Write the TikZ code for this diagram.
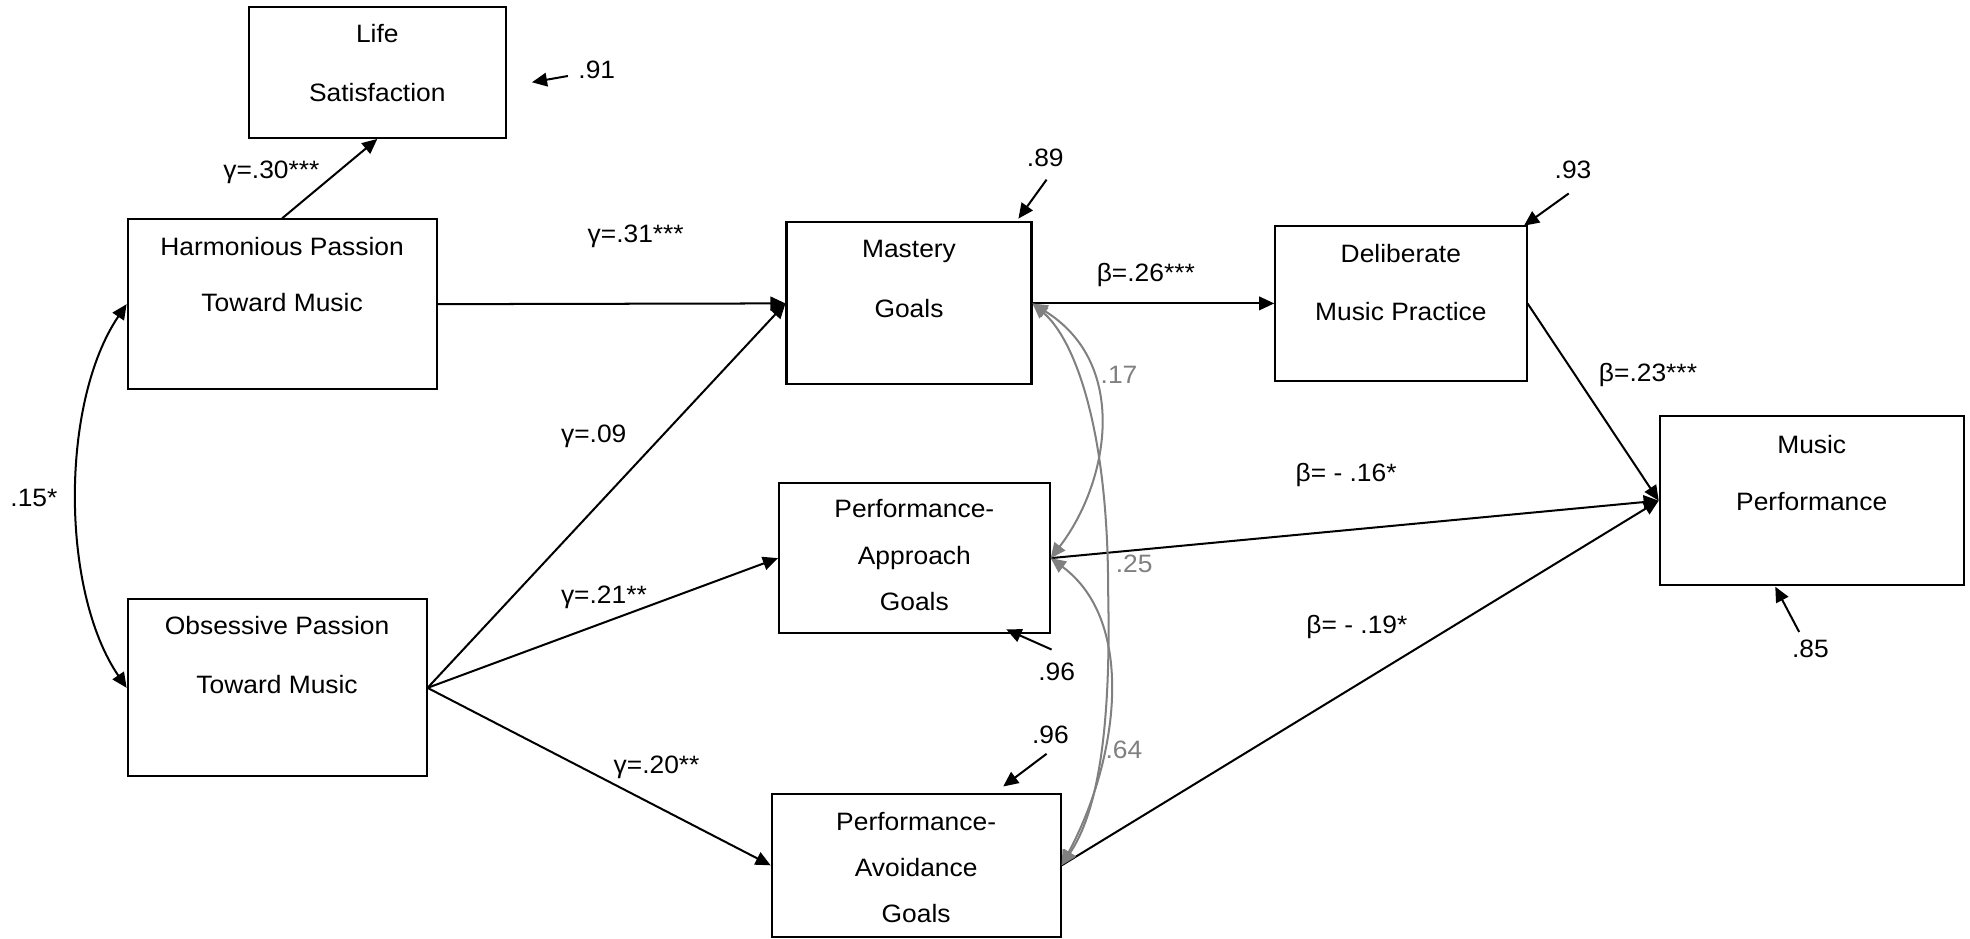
\documentclass[tikz,border=0pt]{standalone}
\usepackage{fontspec}
\setmainfont{Liberation Sans}[FakeStretch=1.05]
\usetikzlibrary{arrows.meta}
\definecolor{curvegray}{RGB}{128,128,128}
\begin{document}
\begin{tikzpicture}[x=0.5pt,y=-0.5pt, font=\fontsize{10}{12}\selectfont,
  box/.style={draw, line width=0.8pt, inner sep=0pt, rectangle},
  txt/.style={anchor=base, inner sep=0pt},
  glab/.style={anchor=base, inner sep=0pt, text=curvegray},
  arr/.style={line width=0.8pt, -{Triangle[length=6pt,width=5.4pt]}},
  darr/.style={line width=0.8pt, {Triangle[length=6pt,width=5.4pt]}-{Triangle[length=6pt,width=5.4pt]}},
  garr/.style={darr, draw=curvegray}]
\fill[white] (0,0) rectangle (1568,747);
\useasboundingbox (0,0) rectangle (1568,747);

% boxes
\node[box, minimum width=102.3pt, minimum height=52pt]    (life) at (300.3,57.8) {};
\node[box, minimum width=122.95pt, minimum height=67.5pt] (harm) at (224.55,242.1) {};
\node[box, minimum width=118.95pt, minimum height=70.5pt] (obs)  at (220.55,547.5) {};
\node[box, minimum width=97.5pt, minimum height=64.5pt]   (mast) at (723.5,241.5) {};
\node[box, minimum width=107.75pt, minimum height=59.75pt] (pap) at (727.75,444.25) {};
\node[box, minimum width=115pt, minimum height=56.75pt]   (pav)  at (729.2,688.75) {};
\node[box, minimum width=100pt, minimum height=61.5pt]    (del)  at (1115,241.5) {};
\node[box, minimum width=121pt, minimum height=67.5pt]    (mp)   at (1442,398.5) {};

% box texts
\node[txt] (lifeA) at (300.3,34) {Life};
\node[txt] (lifeB) at (300.3,80.4) {Satisfaction};
\node[txt] (harmA) at (224.55,203) {Harmonious Passion};
\node[txt] (harmB) at (224.55,248.3) {Toward Music};
\node[txt] (obsA) at (220.55,505.4) {Obsessive Passion};
\node[txt] (obsB) at (220.55,551.6) {Toward Music};
\node[txt] (mastA) at (723.5,205) {Mastery};
\node[txt] (mastB) at (723.5,253) {Goals};
\node[txt] (papA) at (727.75,412.3) {Performance-};
\node[txt] (papB) at (727.75,449.1) {Approach};
\node[txt] (papC) at (727.75,486.3) {Goals};
\node[txt] (pavA) at (729.2,660.7) {Performance-};
\node[txt] (pavB) at (729.2,697.7) {Avoidance};
\node[txt] (pavC) at (729.2,734.2) {Goals};
\node[txt] (delA) at (1115,208.6) {Deliberate};
\node[txt] (delB) at (1115,254.8) {Music Practice};
\node[txt] (mpA) at (1442,360.7) {Music};
\node[txt] (mpB) at (1442,406.2) {Performance};

% paths
\draw[arr] (harm.north) -- (life.south);
\draw[arr] (harm.east) -- (mast.west);
\draw[arr] (obs.east) -- (mast.west);
\draw[arr] (obs.east) -- (pap.west);
\draw[arr] (obs.east) -- (pav.west);
\draw[arr] (mast.east) -- (del.west);
\draw[arr] (del.east) -- (mp.west);
\draw[arr] (pap.east) -- (mp.west);
\draw[arr] (pav.east) -- (mp.west);
\draw[darr] (harm.west) .. controls (48,320) and (48,470) .. (obs.west);

% correlations among goals
\draw[garr] (mast.east) .. controls (900,290) and (882,385) .. (pap.east);
\draw[garr] (mast.east) .. controls (855,270) and (882,340) .. (882,470)
                        .. controls (884,560) and (878,640) .. (pav.east);
\draw[garr] (pap.east) .. controls (905,495) and (890,605) .. (pav.east);

% path labels
\node[txt] (l30) at (216,142) {γ=.30***};
\node[txt] (l31) at (506,193) {γ=.31***};
\node[txt] (l09) at (472.6,352) {γ=.09};
\node[txt] (l21) at (480.7,480) {γ=.21**};
\node[txt] (l20) at (522.6,616) {γ=.20**};
\node[txt] (l15) at (27,403) {.15*};
\node[txt] (l26) at (912,224.3) {β=.26***};
\node[txt] (l23) at (1311.7,304) {β=.23***};
\node[txt] (l16) at (1071.4,383.5) {β= - .16*};
\node[txt] (l19) at (1080,504.3) {β= - .19*};
\node[glab] (l17) at (890.7,305) {.17};
\node[glab] (l25) at (902.7,455.7) {.25};
\node[glab] (l64) at (894.5,604) {.64};

% residuals
\node[txt] (e91) at (475,62.3) {.91};
\node[txt] (e89) at (832,132.4) {.89};
\node[txt] (e93) at (1252,141.8) {.93};
\node[txt] (e96a) at (841,541.4) {.96};
\node[txt] (e96b) at (836,591.4) {.96};
\node[txt] (e85) at (1441,523.6) {.85};
\coordinate (s91) at (452,60.5);   \coordinate (t91) at (423.4,65.5);
\coordinate (s89) at (833,143);    \coordinate (t89) at (810.6,174);
\coordinate (s93) at (1248.6,154); \coordinate (t93) at (1213,179.6);
\coordinate (s96a) at (837,517);   \coordinate (t96a) at (801,501);
\coordinate (s96b) at (833,600);   \coordinate (t96b) at (798.5,626);
\coordinate (s85) at (1432,503);   \coordinate (t85) at (1413,467);
\draw[arr] (s91) -- (t91);
\draw[arr] (s89) -- (t89);
\draw[arr] (s93) -- (t93);
\draw[arr] (s96a) -- (t96a);
\draw[arr] (s96b) -- (t96b);
\draw[arr] (s85) -- (t85);
\end{tikzpicture}
\end{document}
